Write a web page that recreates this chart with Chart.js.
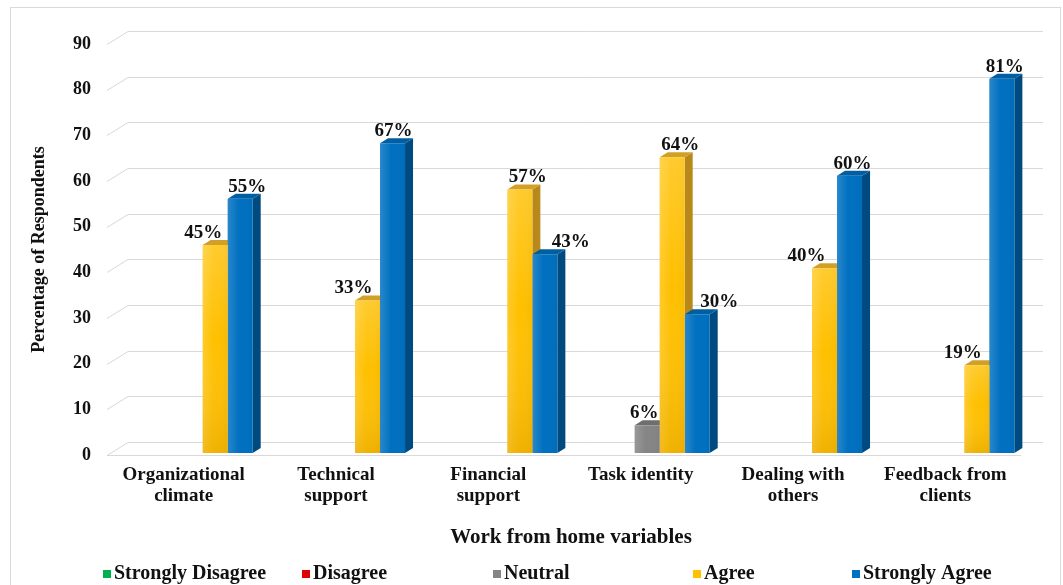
<!DOCTYPE html>
<html>
<head>
<meta charset="utf-8">
<title>Work from home variables</title>
<script src="https://cdn.jsdelivr.net/npm/chart.js@4.4.0/dist/chart.umd.min.js"></script>
<style>
  html, body { margin: 0; padding: 0; background: #fff; }
  #wrap { position: relative; width: 1063px; height: 585px; }
</style>
</head>
<body>
<div id="wrap"><canvas id="chart"></canvas></div>
<script>
// Survey answers per work-from-home variable (percent of respondents)
const categories = [
  ['Organizational', 'climate'],
  ['Technical', 'support'],
  ['Financial', 'support'],
  ['Task identity'],
  ['Dealing with', 'others'],
  ['Feedback from', 'clients']
];
const seriesNames = ['Strongly Disagree', 'Disagree', 'Neutral', 'Agree', 'Strongly Agree'];
const stronglyDisagree = [0, 0, 0, 0, 0, 0];
const disagree = [0, 0, 0, 0, 0, 0];
const neutral = [0, 0, 0, 6, 0, 0];
const agree = [45, 33, 57, 64, 40, 19];
const stronglyAgree = [55, 67, 43, 30, 60, 81];
const yTickValues = [0, 10, 20, 30, 40, 50, 60, 70, 80, 90];

// look
const FONT = '"Liberation Serif", "Times New Roman", serif';
const frontColors = ['#00B050', '#E00000', '#858585', '#FFC000', '#0070C0'];
const sideColors  = ['#007A38', '#A00000', '#5C5C5C', '#B8891A', '#004A80'];
const topColors   = ['#00943F', '#C00000', '#6E6E6E', '#D3A027', '#005FA3'];
const DEPTH_X = 8, DEPTH_Y = -5;        // bar box depth
const FLOOR_X = 21, FLOOR_Y = -13;      // back wall offset of the grid
// label nudges so the percent tags clear the neighbouring bar
const labelNudge = {
  2: [0, 0, 0, -3, 0, 0],
  3: [-12, -14, 8, 8, -18, -14],
  4: [7, 1, 26, 22, 3, 3]
};
const legendX = [103, 302, 493, 693, 852];

const seriesData = [stronglyDisagree, disagree, neutral, agree, stronglyAgree];

function barBox(bar) {
  return {
    l: bar.x - bar.width / 2,
    r: bar.x + bar.width / 2,
    t: bar.y,
    b: bar.base
  };
}

const frame = {
  id: 'frame',
  beforeDraw(chart) {
    const ctx = chart.ctx;
    ctx.save();
    ctx.fillStyle = '#fff';
    ctx.fillRect(0, 0, chart.width, chart.height);
    ctx.strokeStyle = '#d9d9d9';
    ctx.lineWidth = 1;
    ctx.strokeRect(10.5, 7.5, 1050, 640);
    ctx.restore();
  }
};

// back wall grid + floor edge, then side/top faces of each bar box
const depth = {
  id: 'depth',
  beforeDatasetsDraw(chart) {
    const ctx = chart.ctx;
    const y = chart.scales.y;
    const { left, right } = chart.chartArea;
    const x0 = left - 7;
    const xEnd = right + 15;
    ctx.save();
    ctx.strokeStyle = '#d9d9d9';
    ctx.lineWidth = 1;
    yTickValues.forEach(function (v) {
      const py = Math.round(y.getPixelForValue(v)) + 0.5;
      ctx.beginPath();
      ctx.moveTo(x0, py);
      ctx.lineTo(x0 + FLOOR_X, py + FLOOR_Y);
      ctx.lineTo(xEnd, py + FLOOR_Y);
      ctx.stroke();
    });
    const p0 = Math.round(y.getPixelForValue(0)) + 0.5;
    ctx.beginPath();
    ctx.moveTo(x0, p0);
    ctx.lineTo(right - 7, p0);
    ctx.stroke();

    for (let i = 0; i < chart.data.labels.length; i++) {
      chart.data.datasets.forEach(function (ds, d) {
        if (!ds.data[i]) return;
        const b = barBox(chart.getDatasetMeta(d).data[i]);
        ctx.fillStyle = sideColors[d];
        ctx.beginPath();
        ctx.moveTo(b.r, b.t);
        ctx.lineTo(b.r + DEPTH_X, b.t + DEPTH_Y);
        ctx.lineTo(b.r + DEPTH_X, b.b + DEPTH_Y);
        ctx.lineTo(b.r, b.b);
        ctx.closePath();
        ctx.fill();
        ctx.fillStyle = topColors[d];
        ctx.beginPath();
        ctx.moveTo(b.l, b.t);
        ctx.lineTo(b.l + DEPTH_X, b.t + DEPTH_Y);
        ctx.lineTo(b.r + DEPTH_X, b.t + DEPTH_Y);
        ctx.lineTo(b.r, b.t);
        ctx.closePath();
        ctx.fill();
      });
    }
    ctx.restore();
  }
};

// soft shading on the front faces and the percent tags
const faces = {
  id: 'faces',
  afterDatasetsDraw(chart) {
    const ctx = chart.ctx;
    ctx.save();
    chart.data.datasets.forEach(function (ds, d) {
      chart.getDatasetMeta(d).data.forEach(function (bar, i) {
        if (!ds.data[i]) return;
        const b = barBox(bar);
        const gh = ctx.createLinearGradient(b.l, 0, b.r, 0);
        gh.addColorStop(0, 'rgba(255,255,255,0.16)');
        gh.addColorStop(0.45, 'rgba(255,255,255,0)');
        gh.addColorStop(1, 'rgba(0,0,0,0.03)');
        ctx.fillStyle = gh;
        ctx.fillRect(b.l, b.t, b.r - b.l, b.b - b.t);
        if (d === 3) {
          const gv = ctx.createLinearGradient(0, b.t, 0, b.b);
          gv.addColorStop(0, 'rgba(255,255,255,0.18)');
          gv.addColorStop(0.45, 'rgba(255,255,255,0)');
          gv.addColorStop(1, 'rgba(150,90,0,0.14)');
          ctx.fillStyle = gv;
          ctx.fillRect(b.l, b.t, b.r - b.l, b.b - b.t);
        }
      });
    });

    ctx.font = 'bold 19px ' + FONT;
    ctx.fillStyle = '#111';
    ctx.textAlign = 'center';
    ctx.textBaseline = 'middle';
    chart.data.datasets.forEach(function (ds, d) {
      chart.getDatasetMeta(d).data.forEach(function (bar, i) {
        const v = ds.data[i];
        if (!v) return;
        const dx = labelNudge[d] ? labelNudge[d][i] : 0;
        ctx.fillText(v + '%', bar.x + dx, bar.y - 12);
      });
    });
    ctx.restore();
  }
};

const legendRow = {
  id: 'legendRow',
  afterDraw(chart) {
    const ctx = chart.ctx;
    ctx.save();
    ctx.font = 'bold 20px ' + FONT;
    ctx.textAlign = 'left';
    ctx.textBaseline = 'middle';
    seriesNames.forEach(function (name, k) {
      ctx.fillStyle = frontColors[k];
      ctx.fillRect(legendX[k], 570, 8, 8);
      ctx.fillStyle = '#111';
      ctx.fillText(name, legendX[k] + 11, 574);
    });
    ctx.restore();
  }
};

new Chart(document.getElementById('chart'), {
  type: 'bar',
  data: {
    labels: categories,
    datasets: seriesNames.map(function (name, k) {
      return {
        label: name,
        data: seriesData[k],
        backgroundColor: frontColors[k],
        borderWidth: 0,
        yAxisID: 'yBar',
        categoryPercentage: 0.821,
        barPercentage: 1
      };
    })
  },
  options: {
    responsive: true,
    maintainAspectRatio: false,
    animation: false,
    layout: { padding: { top: 44, right: 35, left: 0, bottom: 0 } },
    plugins: {
      legend: { display: false },
      tooltip: { enabled: false }
    },
    scales: {
      x: {
        grid: { display: false, drawTicks: false },
        border: { display: false },
        ticks: {
          color: '#111',
          font: { family: FONT, size: 19, weight: 'bold', lineHeight: 1.1 },
          padding: 10,
          labelOffset: -6.5,
          maxRotation: 0,
          autoSkip: false
        },
        title: {
          display: true,
          text: 'Work from home variables',
          color: '#111',
          font: { family: FONT, size: 21, weight: 'bold' },
          padding: { top: 0, bottom: 35 }
        },
        afterFit: function (scale) { scale.height = 130; }
      },
      y: {
        min: 0,
        max: 90,
        grid: { display: false, drawTicks: false },
        border: { display: false },
        afterBuildTicks: function (scale) {
          scale.ticks = yTickValues.map(function (v) { return { value: v }; });
        },
        ticks: {
          color: '#111',
          font: { family: FONT, size: 18, weight: 'bold' },
          padding: 23
        },
        title: {
          display: true,
          text: 'Percentage of Respondents',
          color: '#111',
          font: { family: FONT, size: 18, weight: 'bold' },
          padding: { top: 29, bottom: 0 }
        },
        afterFit: function (scale) { scale.width = 114; }
      },
      // bars sit a little deeper than the front grid, so they use their own range
      yBar: {
        display: false,
        min: -0.43,
        max: 88.5
      }
    }
  },
  plugins: [frame, depth, faces, legendRow]
});
</script>
</body>
</html>
